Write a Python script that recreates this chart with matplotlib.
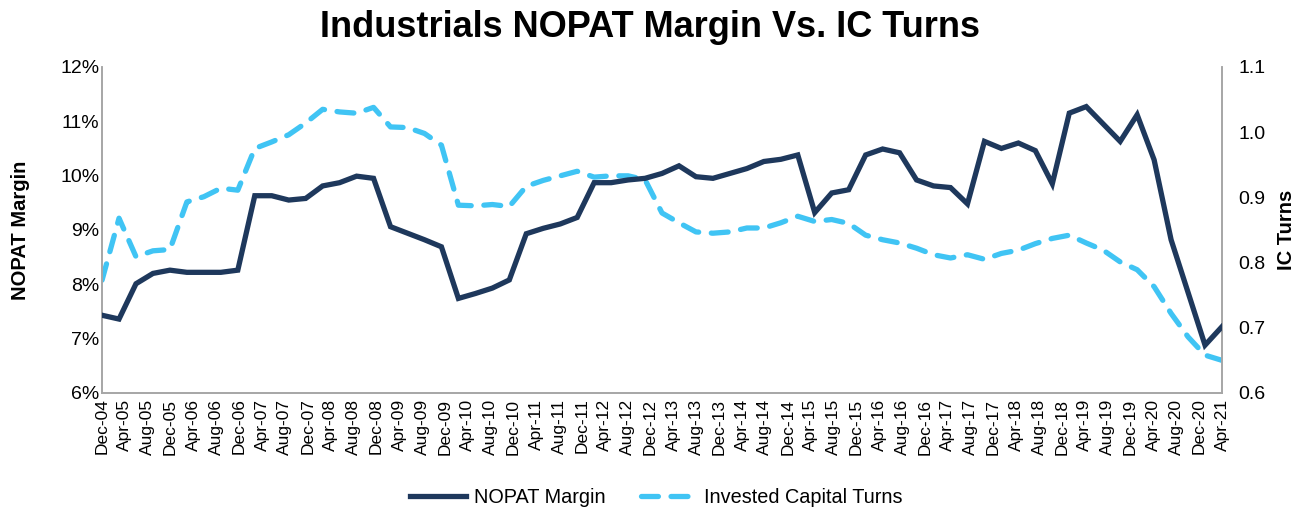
#!/usr/bin/env python3
"""Industrials NOPAT margin vs invested capital turns (quarterly, Dec-04 to Apr-21)."""

import matplotlib
matplotlib.use("Agg")
import matplotlib.pyplot as plt
import numpy as np
import pandas as pd

plt.rcParams['font.family'] = ['Liberation Sans', 'DejaVu Sans']

# NOPAT margin, % (one value per quarter)
nopat_margin = [
    7.43, 7.36, 8.01, 8.20, 8.26, 8.22, 8.22, 8.22, 8.26, 9.63, 9.63, 9.55,
    9.58, 9.81, 9.87, 9.99, 9.95, 9.06, 8.94, 8.82, 8.69, 7.74, 7.83, 7.93,
    8.08, 8.93, 9.03, 9.11, 9.23, 9.87, 9.87, 9.92, 9.95, 10.04, 10.18, 9.98,
    9.95, 10.04, 10.13, 10.26, 10.30, 10.38, 9.32, 9.68, 9.74, 10.38, 10.49, 10.42,
    9.92, 9.81, 9.78, 9.48, 10.63, 10.50, 10.60, 10.46, 9.85, 11.15, 11.27,
    10.95, 10.63, 11.12, 10.29, 8.82, 7.85, 6.88, 7.22,
]

# Invested capital turns
ic_turns = [
    0.773, 0.868, 0.809, 0.818, 0.820, 0.893, 0.901, 0.914, 0.911, 0.975, 0.985, 0.996,
    1.014, 1.035, 1.031, 1.029, 1.038, 1.008, 1.007, 0.998, 0.980, 0.888, 0.887, 0.889,
    0.886, 0.917, 0.926, 0.933, 0.940, 0.931, 0.933, 0.933, 0.927, 0.876, 0.861, 0.847,
    0.845, 0.847, 0.853, 0.853, 0.861, 0.871, 0.863, 0.866, 0.860, 0.842, 0.835, 0.830,
    0.822, 0.812, 0.807, 0.812, 0.805, 0.814, 0.819, 0.829, 0.837, 0.842, 0.830,
    0.819, 0.801, 0.789, 0.763, 0.722, 0.686, 0.658, 0.650,
]

# axis labels every 4 months
tick_labels = list(pd.date_range('2004-12-01', '2021-04-01', freq='4MS').strftime('%b-%y'))

NAVY = '#1E385C'
LIGHT = '#40C4F4'
SPINE = '#A6A6A6'

x = np.arange(len(nopat_margin))

fig = plt.figure(figsize=(13, 5.11), dpi=100)
ax = fig.add_axes([0.0785, 0.231, 0.8615, 0.638])
ax2 = ax.twinx()

l1, = ax.plot(x, nopat_margin, color=NAVY, linewidth=3.8, solid_joinstyle='miter',
              label='NOPAT Margin', zorder=3)
l2, = ax2.plot(x, ic_turns, color=LIGHT, linewidth=3.8, linestyle=(0, (3.2, 2.4)),
               dash_capstyle='round', dash_joinstyle='round', label='Invested Capital Turns')

ax.set_xlim(0, len(x) - 1)
ax.set_ylim(6, 12)
ax2.set_ylim(0.6, 1.1)
ax.set_yticks(np.arange(6, 13, 1))
ax.set_yticklabels([f'{v}%' for v in range(6, 13)])
ax2.set_yticks(np.arange(0.6, 1.15, 0.1))
ax2.set_yticklabels([f'{v:.1f}' for v in np.arange(0.6, 1.15, 0.1)])

ax.set_xticks(np.linspace(0, len(x) - 1, len(tick_labels)))
ax.set_xticklabels(tick_labels, rotation=90)

for a in (ax, ax2):
    a.tick_params(axis='both', length=0, colors='#000000')
    a.spines['top'].set_visible(False)
    for side in ('left', 'right', 'bottom'):
        a.spines[side].set_color(SPINE)
        a.spines[side].set_linewidth(1.2)
ax.tick_params(axis='x', labelsize=12.5, pad=4)
ax.tick_params(axis='y', labelsize=14, pad=2)
ax2.tick_params(axis='y', labelsize=14, pad=12)
ax2.set_zorder(ax.get_zorder() - 1)
ax.patch.set_visible(False)

ax.set_ylabel('NOPAT Margin', fontsize=14.5, fontweight='bold', labelpad=22)
ax2.set_ylabel('IC Turns', fontsize=14.5, fontweight='bold', labelpad=8)

fig.suptitle('Industrials NOPAT Margin Vs. IC Turns', fontsize=26, fontweight='bold',
             x=0.5, y=0.98)

fig.legend([l1, l2], ['NOPAT Margin', 'Invested Capital Turns'], loc='lower center',
           bbox_to_anchor=(0.505, -0.028), ncol=2, frameon=False, fontsize=14.3,
           handlelength=2.8, columnspacing=1.8, handletextpad=0.4)

fig.savefig('out.png', dpi=100)
